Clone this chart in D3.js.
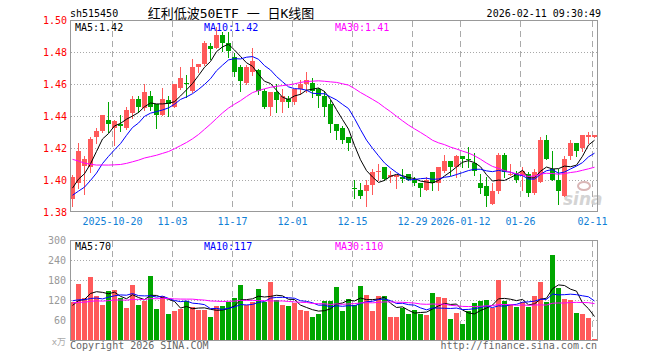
<!DOCTYPE html>
<html><head><meta charset="utf-8">
<script src="https://cdn.jsdelivr.net/npm/d3@7"></script>
<style>body{margin:0;background:#fff}svg{display:block}</style>
</head><body><svg id="c" width="660" height="360"></svg>
<script>
const dates = ["2025-10-09","2025-10-10","2025-10-13","2025-10-14","2025-10-15","2025-10-16","2025-10-17","2025-10-20","2025-10-21","2025-10-22","2025-10-23","2025-10-24","2025-10-27","2025-10-28","2025-10-29","2025-10-30","2025-10-31","2025-11-03","2025-11-04","2025-11-05","2025-11-06","2025-11-07","2025-11-10","2025-11-11","2025-11-12","2025-11-13","2025-11-14","2025-11-17","2025-11-18","2025-11-19","2025-11-20","2025-11-21","2025-11-24","2025-11-25","2025-11-26","2025-11-27","2025-11-28","2025-12-01","2025-12-02","2025-12-03","2025-12-04","2025-12-05","2025-12-08","2025-12-09","2025-12-10","2025-12-11","2025-12-12","2025-12-15","2025-12-16","2025-12-17","2025-12-18","2025-12-19","2025-12-22","2025-12-23","2025-12-24","2025-12-25","2025-12-26","2025-12-29","2025-12-30","2025-12-31","2026-01-05","2026-01-06","2026-01-07","2026-01-08","2026-01-09","2026-01-12","2026-01-13","2026-01-14","2026-01-15","2026-01-16","2026-01-19","2026-01-20","2026-01-21","2026-01-22","2026-01-23","2026-01-26","2026-01-27","2026-01-28","2026-01-29","2026-01-30","2026-02-02","2026-02-03","2026-02-04","2026-02-05","2026-02-06","2026-02-09","2026-02-10","2026-02-11"];
const opens = [1.388,1.398,1.409,1.408,1.427,1.431,1.438,1.433,1.435,1.433,
1.442,1.451,1.445,1.453,1.448,1.441,1.450,1.446,1.458,1.461,
1.456,1.471,1.473,1.484,1.483,1.491,1.486,1.477,1.471,1.461,
1.468,1.469,1.456,1.446,1.455,1.449,1.451,1.449,1.457,1.460,
1.461,1.457,1.453,1.448,1.435,1.433,1.427,1.3952,1.394,1.393,
1.397,1.405,1.408,1.402,1.402,1.402,1.404,1.400,1.398,1.394,
1.405,1.398,1.406,1.412,1.408,1.415,1.4135,1.411,1.398,1.396,
1.385,1.393,1.416,1.403,1.404,1.403,1.404,1.392,1.399,1.425,
1.407,1.400,1.390,1.415,1.423,1.420,1.427,1.427];
const highs = [1.403,1.423,1.415,1.427,1.433,1.441,1.449,1.438,1.441,1.446,
1.453,1.453,1.460,1.456,1.448,1.458,1.453,1.460,1.471,1.466,
1.476,1.473,1.487,1.486,1.496,1.493,1.493,1.480,1.472,1.472,
1.483,1.470,1.457,1.455,1.460,1.457,1.453,1.457,1.463,1.468,
1.464,1.458,1.456,1.450,1.435,1.434,1.427,1.400,1.398,1.400,
1.407,1.410,1.408,1.406,1.403,1.407,1.404,1.402,1.398,1.402,
1.405,1.408,1.416,1.412,1.416,1.415,1.421,1.417,1.404,1.402,
1.398,1.417,1.417,1.410,1.406,1.408,1.405,1.407,1.427,1.428,
1.418,1.407,1.415,1.425,1.423,1.428,1.430,1.428];
const lows = [1.384,1.395,1.391,1.405,1.423,1.430,1.430,1.422,1.431,1.432,
1.439,1.443,1.444,1.444,1.433,1.441,1.440,1.446,1.457,1.452,
1.455,1.468,1.472,1.476,1.483,1.481,1.477,1.465,1.456,1.460,
1.466,1.454,1.445,1.441,1.443,1.443,1.446,1.448,1.454,1.455,
1.452,1.446,1.440,1.430,1.426,1.423,1.419,1.389,1.389,1.384,
1.391,1.400,1.400,1.399,1.395,1.399,1.400,1.397,1.390,1.394,
1.394,1.394,1.405,1.403,1.402,1.408,1.408,1.403,1.392,1.384,
1.385,1.392,1.402,1.403,1.399,1.394,1.390,1.391,1.399,1.413,
1.400,1.385,1.390,1.413,1.415,1.418,1.423,1.427];
const closes = [1.402,1.418,1.413,1.426,1.431,1.441,1.435,1.437,1.434,1.444,
1.451,1.446,1.455,1.446,1.441,1.451,1.448,1.460,1.464,1.460,
1.471,1.473,1.486,1.482,1.491,1.486,1.481,1.468,1.462,1.471,
1.475,1.456,1.446,1.455,1.450,1.453,1.449,1.457,1.460,1.463,
1.456,1.453,1.446,1.435,1.431,1.425,1.423,1.3948,1.390,1.397,
1.405,1.406,1.401,1.403,1.403,1.401,1.400,1.398,1.395,1.400,
1.398,1.408,1.412,1.408,1.415,1.413,1.4130,1.406,1.395,1.390,
1.393,1.416,1.405,1.404,1.400,1.406,1.392,1.405,1.425,1.413,
1.400,1.393,1.413,1.423,1.418,1.428,1.428,1.428];
const volumes = [115,168,126,189,132,105,147,150,127,96,
165,105,119,192,93,132,81,87,93,117,
99,90,90,72,102,102,114,126,165,105,
114,153,114,174,122,105,102,111,90,87,
72,81,117,118,159,87,123,105,162,135,
87,132,132,72,72,96,81,90,81,78,
141,129,126,66,84,51,87,111,117,120,
96,180,117,105,99,114,99,132,174,114,
255,156,123,120,84,81,69,6];
// closes / volumes of the 29 sessions before the window (seed the moving averages)
const prevCloses = [1.450,1.452,1.448,1.446,1.440,1.436,1.432,1.428,1.423,1.421,1.415,1.415,1.420,1.415,1.416,1.413,1.408,1.405,1.401,1.402,1.392,1.388,1.384,1.385,1.381,1.390,1.396,1.395,1.392];
const prevVolumes = [95,120,110,88,130,102,96,125,115,90,105,140,98,112,100,94,118,108,122,102,140,125,150,120,130,95,110,100,105];
const priceTicks = [1.38,1.40,1.42,1.44,1.46,1.48,1.50];
const volTicks = [60,120,180,240,300];
const tickDates = ["2025-10-20","2025-11-03","2025-11-17","2025-12-01","2025-12-15","2025-12-29","2026-01-12","2026-01-26","2026-02-11"];
const tickLabels = ["2025-10-20","11-03","11-17","12-01","12-15","12-29","2026-01-12","01-26","02-11"];
const maPeriods = [5,10,30];
const priceMaLegend = ["1.42","1.42","1.41"];
const volMaLegend = ["70","117","110"];
const symbol = "sh515450";
const title = "红利低波50ETF 一 日K线图";
const stamp = "2026-02-11 09:30:49";

const MONO = "DejaVu Sans Mono, monospace";
const RED = "#ff5a5a", GREEN = "#00a600";
const maColors = ["#000000", "#0000ff", "#ff00ff"];
const svg = d3.select("#c");
const n = dates.length;
const x = d3.scaleLinear().domain([0, n]).range([70, 598]);
const y = d3.scaleLinear().domain([1.38, 1.50]).range([212, 20.7]);
const yv = d3.scaleLinear().domain([0, 300]).range([340.7, 240]);
const PT = 20.5, PB = 211.5, VT = 240.5, VB = 340.5, L = 70.5, R = 597.5;

function movingAvg(prev, arr, p) {
  const full = prev.concat(arr), off = prev.length;
  return arr.map((_, i) => d3.mean(full.slice(off + i - p + 1, off + i + 1)));
}

// text header
svg.append("text").attr("x", 70).attr("y", 17).attr("font-family", MONO).attr("font-size", 10).attr("fill", "#000").text(symbol);
svg.append("text").attr("x", 231).attr("y", 17.5).attr("text-anchor", "middle").attr("font-family", "DejaVu Sans Mono, Noto Sans CJK SC").attr("font-size", 13).attr("fill", "#000").text(title);
svg.append("text").attr("x", 601).attr("y", 17).attr("text-anchor", "end").attr("font-family", MONO).attr("font-size", 10).attr("fill", "#000").text(stamp);

const tickIdx = tickDates.map(d => dates.indexOf(d));

function grid(top, bottom, yTicks, yscale) {
  const g = svg.append("g").attr("shape-rendering", "crispEdges");
  g.selectAll("line.h").data(yTicks).join("line")
    .attr("x1", L).attr("x2", R)
    .attr("y1", d => Math.floor(yscale(d)) + 0.5).attr("y2", d => Math.floor(yscale(d)) + 0.5)
    .attr("stroke", "#a8a8a8").attr("stroke-dasharray", "1,2");
  g.selectAll("line.v").data(tickIdx).join("line")
    .attr("x1", d => Math.round(x(d)) + 0.5).attr("x2", d => Math.round(x(d)) + 0.5)
    .attr("y1", top).attr("y2", bottom)
    .attr("stroke", "#aaaaaa").attr("stroke-dasharray", "6,4");
}
grid(PT, PB, priceTicks.filter(t => t > 1.381 && t < 1.499), y);
grid(VT, VB, volTicks.filter(t => t < 300), yv);

// sina watermark
const wm = svg.append("g").attr("opacity", 0.9);
wm.append("text").attr("x", 563).attr("y", 205).attr("font-family", "DejaVu Sans, sans-serif").attr("font-style", "italic").attr("font-weight", "bold").attr("font-size", 17).attr("fill", "#d0d0d0").text("sina");
wm.append("ellipse").attr("cx", 584).attr("cy", 186).attr("rx", 6).attr("ry", 4).attr("fill", "none").attr("stroke", "#d6b0b0").attr("stroke-width", 2);

// candles
const cg = svg.append("g").attr("shape-rendering", "crispEdges");
const idx = d3.range(n);
const up = i => closes[i] >= opens[i];
cg.selectAll("line.w").data(idx).join("line")
  .attr("x1", i => Math.round(x(i)) + 2.5).attr("x2", i => Math.round(x(i)) + 2.5)
  .attr("y1", i => Math.round(y(highs[i]))).attr("y2", i => Math.round(y(lows[i])) + 1)
  .attr("stroke", i => up(i) ? RED : GREEN);
cg.selectAll("rect.b").data(idx).join("rect")
  .attr("x", i => Math.round(x(i)))
  .attr("width", 5)
  .attr("y", i => Math.round(y(Math.max(opens[i], closes[i]))))
  .attr("height", i => Math.max(1, Math.round(y(Math.min(opens[i], closes[i]))) - Math.round(y(Math.max(opens[i], closes[i])))))
  .attr("fill", i => up(i) ? RED : GREEN);

// price moving averages
maPeriods.forEach((p, k) => {
  const m = movingAvg(prevCloses, closes, p);
  svg.append("path").datum(m)
    .attr("d", d3.line().x((_, i) => x(i) + 2.5).y(d => y(d)))
    .attr("fill", "none").attr("stroke", maColors[k]).attr("stroke-width", 1);
});

// volume bars
const vg = svg.append("g").attr("shape-rendering", "crispEdges");
vg.selectAll("rect").data(idx).join("rect")
  .attr("x", i => Math.round(x(i)))
  .attr("width", 5)
  .attr("y", i => Math.round(yv(volumes[i])))
  .attr("height", i => Math.max(1, 341 - Math.round(yv(volumes[i]))))
  .attr("fill", i => up(i) ? RED : GREEN);
maPeriods.forEach((p, k) => {
  const m = movingAvg(prevVolumes, volumes, p);
  svg.append("path").datum(m)
    .attr("d", d3.line().x((_, i) => x(i) + 2.5).y(d => yv(d)))
    .attr("fill", "none").attr("stroke", maColors[k]).attr("stroke-width", 1);
});

// frames
const fg = svg.append("g").attr("shape-rendering", "crispEdges").attr("fill", "none").attr("stroke", "#999");
fg.append("rect").attr("x", L).attr("y", PT).attr("width", R - L).attr("height", PB - PT);
fg.append("rect").attr("x", L).attr("y", VT).attr("width", R - L).attr("height", VB - VT);

// price axis labels
svg.append("g").selectAll("text").data(priceTicks).join("text")
  .attr("x", 67).attr("y", d => y(d) + 3.5).attr("text-anchor", "end")
  .attr("font-family", MONO).attr("font-size", 10).attr("fill", "#ff0000")
  .text(d => d3.format(".2f")(d));
// date labels
svg.append("g").selectAll("text").data(tickIdx).join("text")
  .attr("x", (d, i) => Math.round(x(d)) + 0.5).attr("y", 225).attr("text-anchor", "middle")
  .attr("font-family", MONO).attr("font-size", 10).attr("fill", "#1180d6")
  .text((d, i) => tickLabels[i]);
// volume axis labels
svg.append("g").selectAll("text").data(volTicks).join("text")
  .attr("x", 66).attr("y", d => yv(d) + 3.5).attr("text-anchor", "end")
  .attr("font-family", MONO).attr("font-size", 10).attr("fill", "#999")
  .text(d => d);
svg.append("text").attr("x", 66).attr("y", 344.5).attr("text-anchor", "end").attr("font-family", "DejaVu Sans, Noto Sans CJK SC").attr("font-size", 9).attr("fill", "#aaa").text("x万");

// legends
const legX = [75, 204, 335];
maPeriods.forEach((p, k) => {
  svg.append("text").attr("x", legX[k]).attr("y", 30.5).attr("font-family", MONO).attr("font-size", 10)
    .attr("fill", maColors[k]).text("MA" + p + ":" + priceMaLegend[k]);
  svg.append("text").attr("x", legX[k]).attr("y", 250).attr("font-family", MONO).attr("font-size", 10)
    .attr("fill", maColors[k]).text("MA" + p + ":" + volMaLegend[k]);
});

// footer
svg.append("text").attr("x", 70).attr("y", 349).attr("font-family", MONO).attr("font-size", 10).attr("fill", "#666").text("Copyright 2026 SINA.COM");
svg.append("text").attr("x", 597).attr("y", 349).attr("text-anchor", "end").attr("font-family", MONO).attr("font-size", 10).attr("fill", "#666").text("http://finance.sina.com.cn");
</script>
</body></html>
